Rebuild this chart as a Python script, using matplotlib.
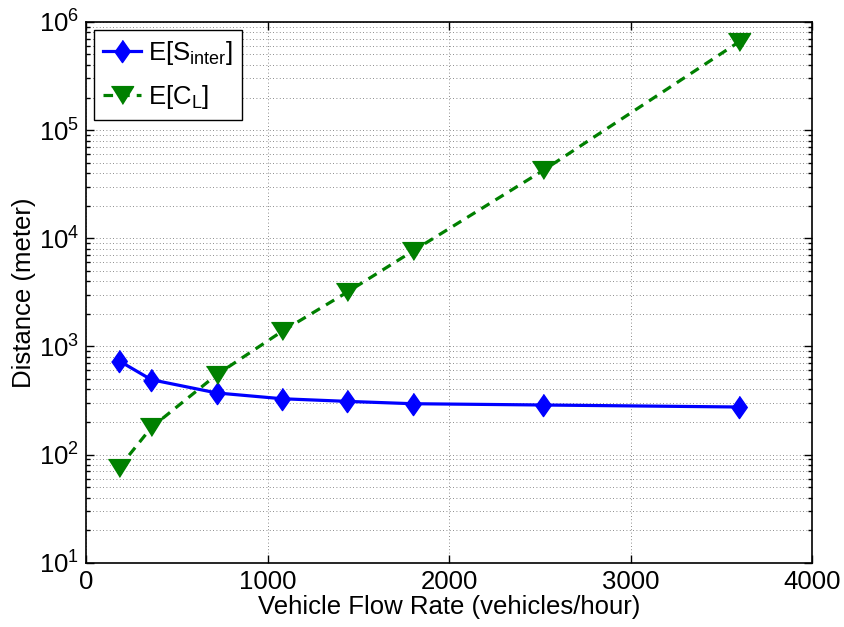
#!/usr/bin/env python3
"""Expected inter-cluster spacing vs. expected cluster length over flow rate."""

import matplotlib

matplotlib.use("Agg")
import matplotlib.pyplot as plt  # noqa: E402
from matplotlib.ticker import FixedLocator, LogLocator, NullFormatter  # noqa: E402

plt.rcParams["font.family"] = ["Liberation Sans", "DejaVu Sans"]
plt.rcParams["mathtext.default"] = "regular"

flow_rate = [180, 360, 720, 1080, 1440, 1800, 2520, 3600]
s_inter = [738, 492, 371, 328, 310, 295, 287, 275]
c_len = [75, 178, 547, 1377, 3180, 7600, 42500, 658000]

x_ticks = [0, 1000, 2000, 3000, 4000]
y_exponents = [1, 2, 3, 4, 5, 6]

FONT_SIZE = 18.5

fig = plt.figure(figsize=(8.45, 6.27), dpi=100)
ax = fig.add_axes([0.1018, 0.1026, 0.8592, 0.8624])

# MATLAB-style markers: fat diamond, wide downward triangle
diamond = [(0.0, 1.0), (0.7, 0.0), (0.0, -1.0), (-0.7, 0.0)]
tri = [(-1.0, 0.8), (1.0, 0.8), (0.0, -0.8)]

ax.plot(flow_rate, s_inter, color="blue", linewidth=2.3, marker=diamond,
        markersize=16, label=r"E[S$_{inter}$]")
ax.plot(flow_rate, c_len, color=(0, 0.5, 0), linewidth=2.3,
        linestyle=(0, (3.0, 2.2)), marker=tri, markersize=16,
        label=r"E[C$_{L}$]")

ax.set_yscale("log")
ax.set_xlim(0, 4000)
ax.set_ylim(10, 1e6)

ax.xaxis.set_major_locator(FixedLocator(x_ticks))
ax.set_xticklabels([str(t) for t in x_ticks])
ax.yaxis.set_major_locator(FixedLocator([10.0 ** e for e in y_exponents]))
ax.set_yticklabels([rf"$10^{{{e}}}$" for e in y_exponents])
ax.yaxis.set_minor_locator(LogLocator(base=10, subs=range(2, 10)))
ax.yaxis.set_minor_formatter(NullFormatter())

ax.tick_params(which="both", direction="in", top=True, right=True,
               labelsize=FONT_SIZE, width=1.0)
ax.tick_params(which="major", length=6, pad=5)
ax.tick_params(which="minor", length=3)

ax.grid(True, which="major", linestyle=(0, (1, 3)), color="#666666", linewidth=0.6)
ax.grid(True, which="minor", axis="y", linestyle=(0, (1, 3)), color="#666666", linewidth=0.6)

for spine in ax.spines.values():
    spine.set_linewidth(1.2)

ax.set_xlabel("Vehicle Flow Rate (vehicles/hour)", fontsize=FONT_SIZE, labelpad=1)
ax.set_ylabel("Distance (meter)", fontsize=FONT_SIZE, labelpad=2)

leg = ax.legend(loc="upper left", fontsize=FONT_SIZE, fancybox=False,
                framealpha=1, edgecolor="black", handlelength=1.5,
                handletextpad=0.25, borderaxespad=0.3, borderpad=0.35,
                labelspacing=0.65)
leg.get_frame().set_linewidth(1.0)

fig.savefig("out.png", dpi=100)
